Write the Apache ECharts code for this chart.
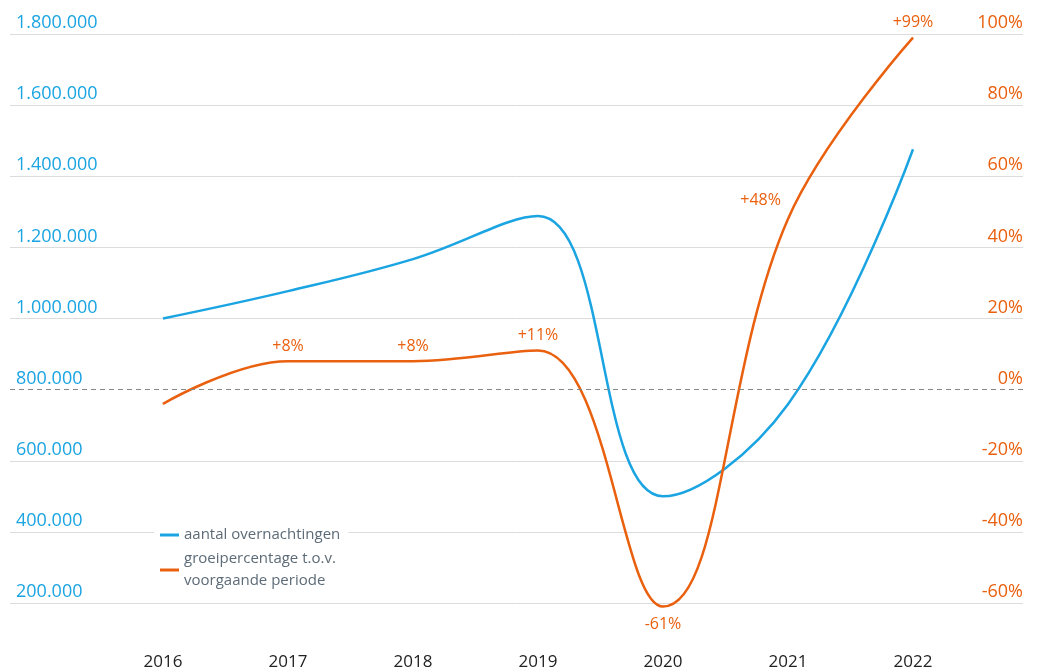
<!DOCTYPE html>
<html><head><meta charset="utf-8">
<script src="https://cdn.jsdelivr.net/npm/echarts@6/dist/echarts.min.js"></script>
<style>html,body{margin:0;padding:0;background:#fff}#c{width:1038px;height:672px}</style>
</head><body><div id="c"></div>
<script>
const years = [2016, 2017, 2018, 2019, 2020, 2021, 2022];
const overnachtingen = [1000000, 1077000, 1167000, 1288000, 500000, 759000, 1476000];
const groei = [-4, 8, 8, 11, -61, 48, 99];
const groeiLabels = ['', '+8%', '+8%', '+11%', '-61%', '+48%', '+99%'];
const leftTicks = [200000, 1800000, 200000];
const rightTicks = [-60, 100, 20];
const seriesNames = ['aantal overnachtingen', 'groeipercentage t.o.v.\nvoorgaande periode'];

const BLUE = '#1ba4e2', ORANGE = '#e9600f', FONT = 'Open Sans';
const fmtNL = v => v.toString().replace(/\B(?=(\d{3})+(?!\d))/g, '.');
const labelPos = ['top', 'top', 'top', 'top', 'bottom', 'left', 'top'];
const labelOff = [[0,0],[0,0],[0,0],[0,0],[0,3],[0,-18],[0,0]];

const chart = echarts.init(document.getElementById('c'), null, {renderer: 'canvas'});
const gridColors = [];
for (let v = leftTicks[0]; v <= leftTicks[1]; v += leftTicks[2]) gridColors.push(v === 800000 ? 'rgba(0,0,0,0)' : '#dcdcdc');

chart.setOption({
  animation: false,
  textStyle: {fontFamily: FONT},
  grid: {left: 10, right: 15, top: 34, bottom: 69},
  xAxis: {
    type: 'value', min: 2014.776, max: 2022.88,
    splitLine: {show: false}, axisLine: {show: false}, axisTick: {show: false},
    axisLabel: {customValues: years, formatter: v => String(Math.round(v)), color: '#222', fontSize: 17, margin: 51, fontFamily: FONT}
  },
  yAxis: [{
    type: 'value', min: leftTicks[0], max: leftTicks[1], interval: leftTicks[2],
    axisLine: {show: false}, axisTick: {show: false},
    splitLine: {lineStyle: {color: gridColors, width: 1}},
    axisLabel: {inside: true, margin: 0, verticalAlign: 'bottom', padding: [0, 0, 2, 6], color: BLUE, fontSize: 18, formatter: fmtNL, fontFamily: FONT}
  }, {
    type: 'value', min: rightTicks[0], max: rightTicks[1], interval: rightTicks[2], position: 'right',
    axisLine: {show: false}, axisTick: {show: false}, splitLine: {show: false},
    axisLabel: {inside: true, margin: 0, verticalAlign: 'bottom', padding: [0, 0, 2, 0], color: ORANGE, fontSize: 18, formatter: '{value}%', fontFamily: FONT}
  }],
  legend: {
    orient: 'vertical', left: 154, top: 520, backgroundColor: '#fff', padding: [4, 8, 4, 6],
    itemWidth: 19, itemHeight: 3, itemGap: 2, icon: 'rect',
    textStyle: {color: '#5c6b77', fontSize: 15, lineHeight: 22, fontFamily: FONT},
    data: seriesNames
  },
  series: [{
    name: seriesNames[0], type: 'line', yAxisIndex: 0,
    data: years.map((y, i) => [y, overnachtingen[i]]),
    smooth: 0.4, showSymbol: false, clip: false,
    lineStyle: {color: BLUE, width: 2.5}, itemStyle: {color: BLUE}
  }, {
    name: seriesNames[1], type: 'line', yAxisIndex: 1, z: 3, clip: false,
    data: years.map((y, i) => ({
      value: [y, groei[i]],
      label: {show: groeiLabels[i] !== '', position: labelPos[i], offset: labelOff[i], formatter: groeiLabels[i], distance: 6,
              color: ORANGE, fontSize: 16, fontFamily: FONT}
    })),
    smooth: 0.4, showSymbol: true, symbolSize: 0.1,
    lineStyle: {color: ORANGE, width: 2.5}, itemStyle: {color: ORANGE},
    markLine: {
      silent: true, symbol: 'none', label: {show: false},
      lineStyle: {color: '#888', type: [5, 4], width: 1},
      data: [{yAxis: 0}]
    }
  }]
});
</script></body></html>
